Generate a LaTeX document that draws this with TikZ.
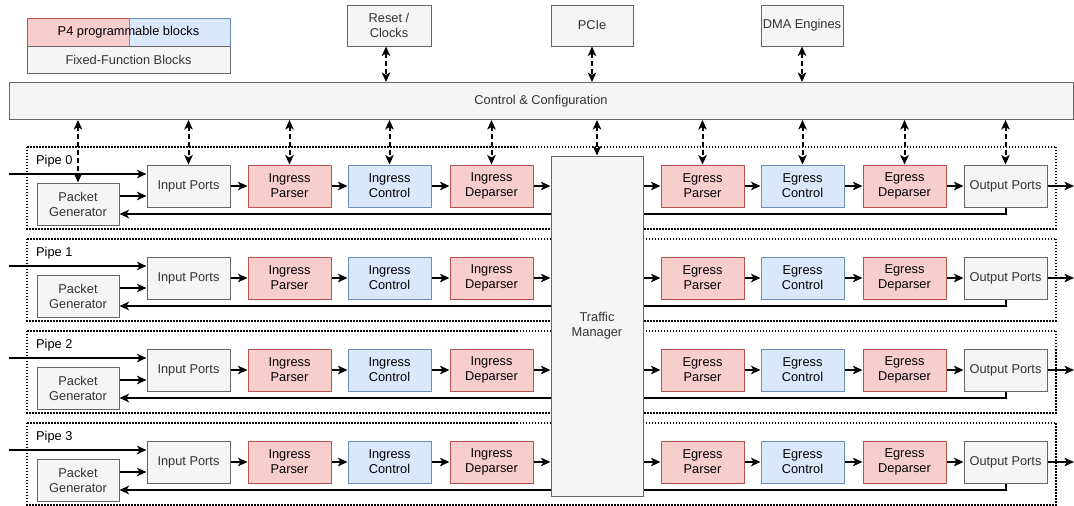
\documentclass[tikz,border=0pt]{standalone}
\usepackage{fontspec}
\setmainfont{Liberation Sans}
\usetikzlibrary{arrows.meta,calc}

\definecolor{rfill}{HTML}{F8CECC}
\definecolor{rdraw}{HTML}{B85450}
\definecolor{bfill}{HTML}{DAE8FC}
\definecolor{bdraw}{HTML}{6C8EBF}
\definecolor{ffill}{HTML}{F5F5F5}
\definecolor{fdraw}{HTML}{666666}
\definecolor{ftext}{HTML}{333333}

\pgfdeclarelayer{bg}
\pgfsetlayers{bg,main}

\tikzset{
  txt/.style={font=\fontsize{12.8}{15}\selectfont},
  blk/.style={txt, draw, line width=1pt, minimum width=83pt, minimum height=42pt,
              inner sep=0pt, align=center},
  ffb/.style={blk, fill=ffill, draw=fdraw, text=ftext},
  pprs/.style={blk, fill=rfill, draw=rdraw, text=black},
  pctl/.style={blk, fill=bfill, draw=bdraw, text=black},
  tip/.tip={Stealth[length=9.5pt,width=8.5pt,inset=2.5pt]},
  flow/.style={line width=2pt, -tip},
  cfg/.style={line width=2pt, dash pattern=on 5pt off 3pt, tip-tip},
  pipebox/.style={line width=2pt, dash pattern=on 1.5pt off 1.5pt},
}

\begin{document}
\begin{tikzpicture}[x=1pt,y=-1pt]
\useasboundingbox (0,0) rectangle (1074,506);

% legend
\node[draw=rdraw, fill=rfill, line width=1pt, minimum width=102pt, minimum height=28pt, inner sep=0pt] (lgr) at (78,32) {};
\node[draw=bdraw, fill=bfill, line width=1pt, minimum width=101pt, minimum height=28pt, inner sep=0pt] (lgb) at (179.5,32) {};
\node[txt] (lgt) at (128.5,32) {P4 programmable blocks};
\node[ffb, minimum width=203pt, minimum height=27pt] (lgf) at (128.5,59.5) {Fixed-Function Blocks};

% external interfaces
\node[ffb, minimum width=84pt, minimum height=41pt] (reset) at (389,25.5) {Reset /\\Clocks};
\node[ffb, minimum width=82pt, minimum height=41pt] (pcie) at (592,25.5) {PCIe};
\node[ffb, minimum width=82pt, minimum height=41pt] (dma) at (802,25.5) {DMA Engines};

% control plane bar
\node[ffb, minimum width=1064pt, minimum height=37pt] (ctrl) at (541,101) {Control \& Configuration};

\draw[cfg] ([xshift=-3pt]reset.south) -- ([xshift=-3pt]reset.south |- ctrl.north);
\draw[cfg] (pcie.south) -- (pcie.south |- ctrl.north);
\draw[cfg] (dma.south) -- (dma.south |- ctrl.north);

% shared traffic manager
\node[ffb, minimum width=92pt, minimum height=340pt] (tm) at (597,326) {Traffic\\Manager};

% pipelines
\foreach \p in {0,1,2,3} {
  \pgfmathsetmacro\r{186+92*\p}
  \begin{pgfonlayer}{bg}
    \draw[pipebox] (27,{\r-39.5}) rectangle (1056,{\r+42.5});
  \end{pgfonlayer}
  \node[txt, anchor=west, inner sep=0pt] (lbl\p) at (36,{\r-25}) {Pipe \p};

  \node[ffb, minimum width=82pt] (pg\p) at (78,{\r+18}) {Packet\\Generator};
  \node[ffb] (ip\p) at (188.5,\r) {Input Ports};
  \node[pprs] (ingp\p) at (289.5,\r) {Ingress\\Parser};
  \node[pctl] (ingc\p) at (389.5,\r) {Ingress\\Control};
  \node[pprs] (ingd\p) at (491.5,\r) {Ingress\\Deparser};
  \node[pprs] (ep\p) at (702.5,\r) {Egress\\Parser};
  \node[pctl] (ec\p) at (802.5,\r) {Egress\\Control};
  \node[pprs] (ed\p) at (904.5,\r) {Egress\\Deparser};
  \node[ffb] (op\p) at (1005.5,\r) {Output Ports};

  \coordinate (in\p) at (9,{\r-12});
  \coordinate (out\p) at (1074,\r);

  \draw[flow] (in\p) -- (in\p -| ip\p.west);
  \draw[flow] ([yshift=8pt]pg\p.east) -- ([yshift=8pt]pg\p.east -| ip\p.west);
  \draw[flow] (ip\p) -- (ingp\p);
  \draw[flow] (ingp\p) -- (ingc\p);
  \draw[flow] (ingc\p) -- (ingd\p);
  \draw[flow] (ingd\p.east) -- (ingd\p.east -| tm.west);
  \draw[flow] (ep\p.west -| tm.east) -- (ep\p.west);
  \draw[flow] (ep\p) -- (ec\p);
  \draw[flow] (ec\p) -- (ed\p);
  \draw[flow] (ed\p) -- (op\p);
  \draw[flow] (op\p.east) -- (out\p);
  \begin{pgfonlayer}{bg}
    \draw[flow] (op\p.south) |- ([yshift=-10pt]pg\p.east);
  \end{pgfonlayer}
}

% control links into pipe 0
\foreach \n in {pg0,ip0,ingp0,ingc0,ingd0,tm,ep0,ec0,ed0,op0}
  \draw[cfg] (ctrl.south -| \n.north) -- (\n.north);

\end{tikzpicture}
\end{document}
